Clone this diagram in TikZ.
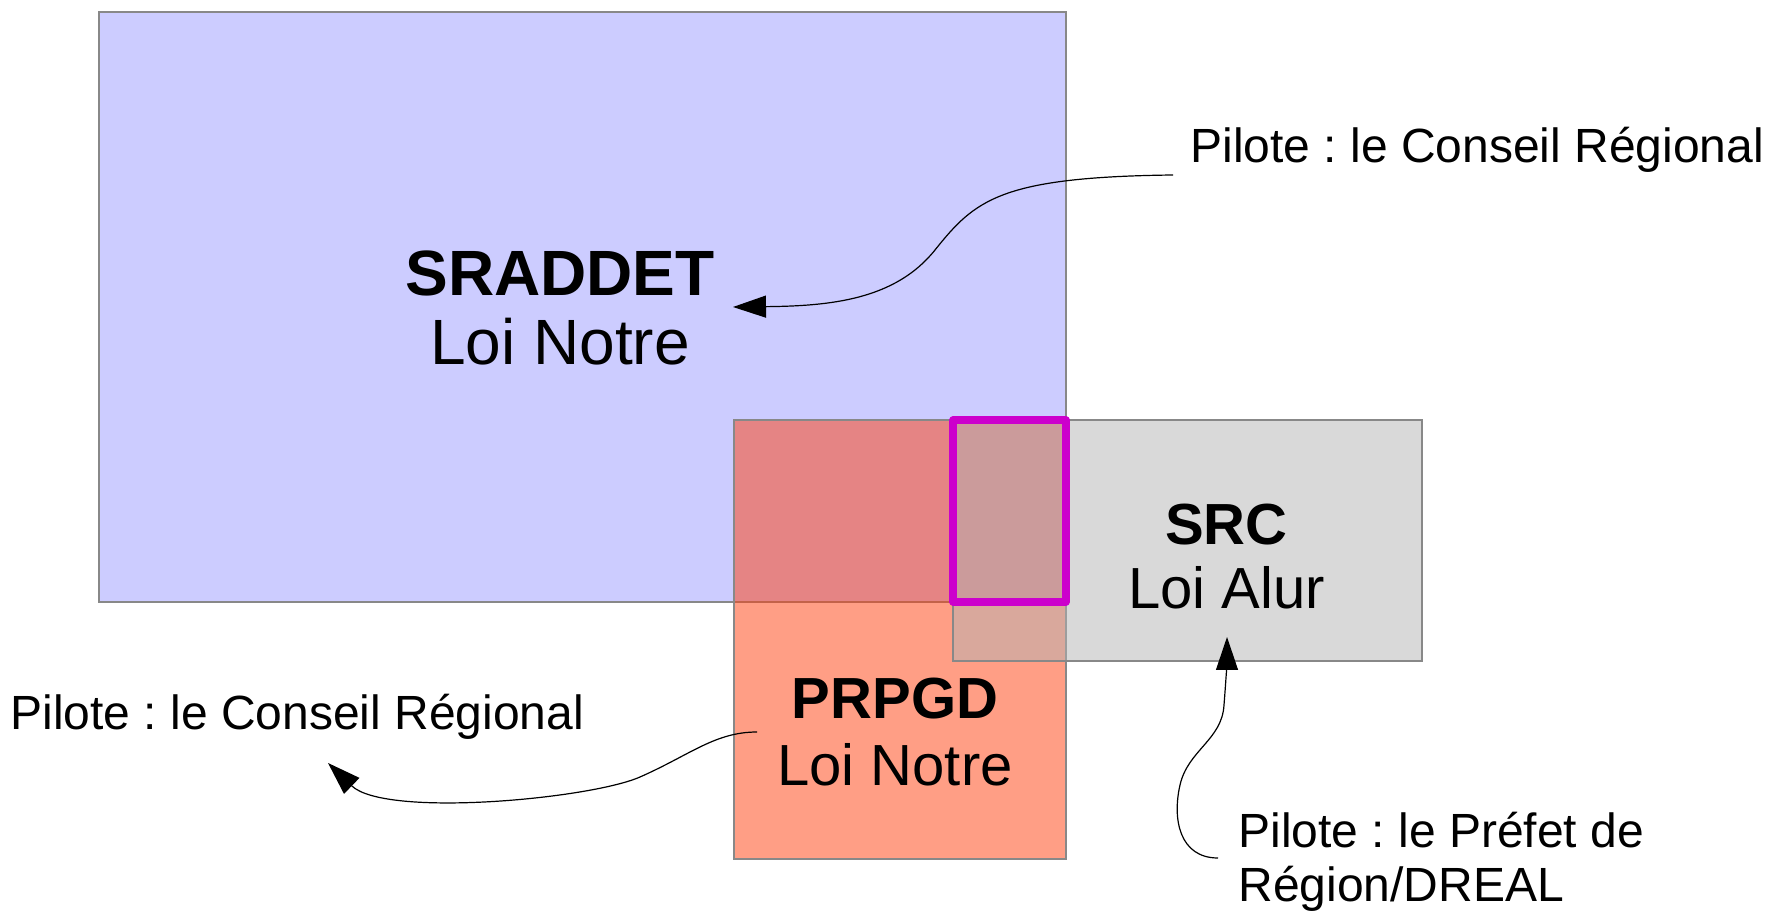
\documentclass[tikz,border=0pt]{standalone}
\usepackage{fontspec}
\setmainfont{Liberation Sans}
\usetikzlibrary{arrows.meta}
\frenchspacing
\definecolor{sraddetfill}{HTML}{CCCCFF}
\definecolor{prpgdfill}{RGB}{255,61,11}
\definecolor{srcfill}{HTML}{B3B3B3}
\definecolor{edgegray}{HTML}{888888}
\definecolor{intercol}{HTML}{CC00CC}
\tikzset{
  region/.style={draw=edgegray, line width=0.7pt},
  bigtitle/.style={font=\bfseries\fontsize{32pt}{36pt}\selectfont, anchor=base, inner sep=0pt},
  bigsub/.style={font=\fontsize{32pt}{36pt}\selectfont, anchor=base, inner sep=0pt},
  midtitle/.style={font=\bfseries\fontsize{29pt}{33pt}\selectfont, anchor=base, inner sep=0pt},
  midsub/.style={font=\fontsize{29pt}{33pt}\selectfont, anchor=base, inner sep=0pt},
  pilote/.style={font=\fontsize{24pt}{27pt}\selectfont, anchor=base west, inner sep=0pt},
  connector/.style={draw=black, line width=0.6pt, -{Triangle[length=16.5pt,width=11pt]}},
  intersection/.style={draw=intercol, line width=3.6pt, line join=round}
}
\begin{document}
\begin{tikzpicture}[x=0.5pt,y=-0.5pt]
\useasboundingbox (0,0) rectangle (1767,913);
% regions
\path[region, fill=sraddetfill] (99,12) rectangle (1066,602);
\path[region, fill=prpgdfill, fill opacity=0.5] (734,420) rectangle (1066,859);
\path[region, fill=srcfill, fill opacity=0.5] (953,420) rectangle (1422,661);
\path[intersection] (953,420) rectangle (1066,602);
% labels
\node[bigtitle] (sraddetT) at (560,296) {SRADDET};
\node[bigsub] (sraddetL) at (560,365) {Loi Notre};
\node[midtitle] (prpgdT) at (895,719) {PRPGD};
\node[midsub] (prpgdL) at (895,785) {Loi Notre};
\node[midtitle] (srcT) at (1226.5,545) {SRC};
\node[midsub] (srcL) at (1226.5,609) {Loi Alur};
\node[pilote] (pil1) at (1190,163) {Pilote : le Conseil Régional};
\node[pilote] (pil2) at (10,730) {Pilote : le Conseil Régional};
\node[pilote, align=left] (pil3) at (1238,901) {Pilote : le Préfet de\\Région/DREAL};
% connector ends
\coordinate (c1s) at (1173,175);
\coordinate (c1e) at (733,307);
\coordinate (c2s) at (757,732);
\coordinate (c2e) at (328,763);
\coordinate (c3s) at (1218,858);
\coordinate (c3e) at (1227,637);
% connectors
\draw[connector] (c1s) .. controls (1000,177) and (975,200) .. (935,250)
  .. controls (895,300) and (830,306) .. (c1e);
\draw[connector] (c2s) .. controls (715,732) and (690,755) .. (640,777)
  .. controls (590,799) and (385,818) .. (c2e);
\draw[connector] (c3s) .. controls (1180,858) and (1172,820) .. (1180,785)
  .. controls (1188,750) and (1222,740) .. (1224,705)
  .. controls (1226,680) and (1227,660) .. (c3e);
\end{tikzpicture}
\end{document}
